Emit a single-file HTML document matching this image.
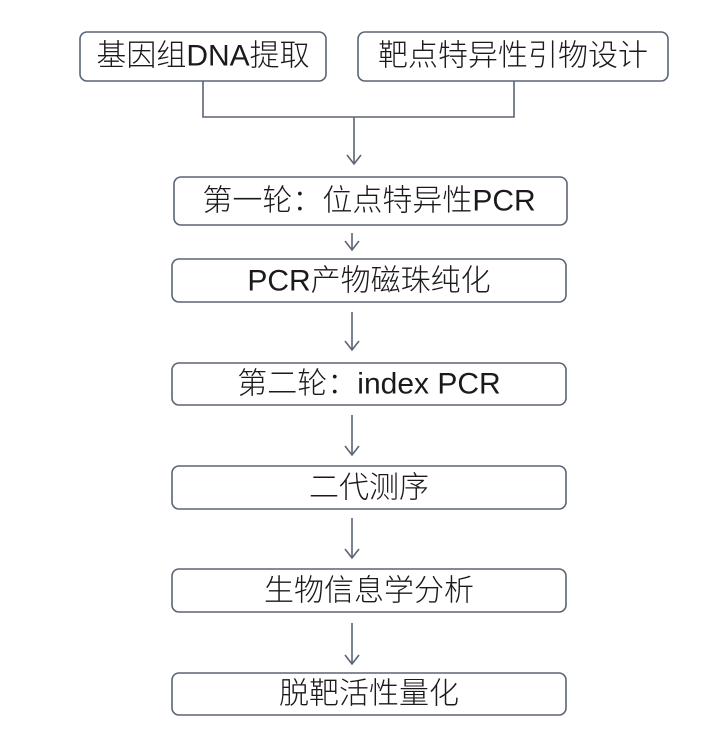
<!DOCTYPE html>
<html><head><meta charset="utf-8"><style>
html,body{margin:0;padding:0;background:#fff;}
svg{display:block;}
text{font-family:"Liberation Sans","Noto Sans CJK SC",sans-serif;font-size:30px;fill:#1a1a1a;text-anchor:middle;dominant-baseline:central;font-weight:300;}
</style></head><body>
<svg width="720" height="741" viewBox="0 0 720 741">
<g fill="#fff" stroke="#5b6475" stroke-width="1.6">
<rect x="80" y="32" width="246" height="49" rx="7"/>
<rect x="358" y="32" width="310" height="49" rx="7"/>
<rect x="174" y="177" width="393" height="48" rx="7"/>
<rect x="172" y="259" width="394" height="43" rx="7"/>
<rect x="172" y="363" width="394" height="42" rx="7"/>
<rect x="172" y="466" width="394" height="43" rx="7"/>
<rect x="172" y="569" width="394" height="43" rx="7"/>
<rect x="172" y="673" width="394" height="42" rx="7"/>
</g>
<g fill="none" stroke="#5b6475" stroke-width="1.6">
<polyline points="203,81 203,117 514,117 514,81"/>
<line x1="354" y1="117" x2="354" y2="164"/><polyline points="347,155 354,164 361,155"/>
<line x1="352" y1="233" x2="352" y2="250"/><polyline points="345,241 352,250 359,241"/>
<line x1="352" y1="312" x2="352" y2="350"/><polyline points="345,341 352,350 359,341"/>
<line x1="352" y1="415" x2="352" y2="455"/><polyline points="345,446 352,455 359,446"/>
<line x1="352" y1="518" x2="352" y2="558"/><polyline points="345,549 352,558 359,549"/>
<line x1="352" y1="623" x2="352" y2="664"/><polyline points="345,655 352,664 359,655"/>
</g>
<text x="203" y="56">基因组DNA提取</text>
<text x="513" y="56">靶点特异性引物设计</text>
<text x="369" y="201">第一轮：位点特异性PCR</text>
<text x="369" y="281">PCR产物磁珠纯化</text>
<text x="369" y="384">第二轮：index PCR</text>
<text x="369" y="488">二代测序</text>
<text x="369" y="591">生物信息学分析</text>
<text x="369" y="694">脱靶活性量化</text>
</svg>
</body></html>
